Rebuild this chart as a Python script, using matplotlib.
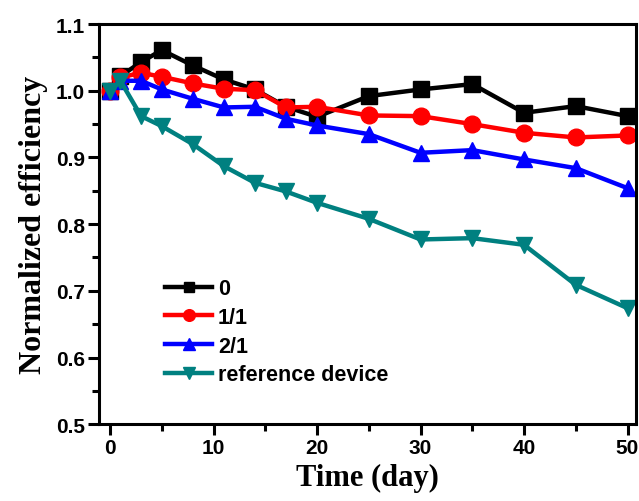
import matplotlib
matplotlib.use("Agg")
import matplotlib.pyplot as plt
from matplotlib.ticker import MultipleLocator

days = [0, 1, 3, 5, 8, 11, 14, 17, 20, 25, 30, 35, 40, 45, 50]

eff_0 = [1.000, 1.022, 1.043, 1.061, 1.038, 1.017, 1.002, 0.976, 0.961, 0.992, 1.002, 1.010, 0.967, 0.977, 0.962]
eff_11 = [1.000, 1.020, 1.027, 1.021, 1.011, 1.003, 1.001, 0.975, 0.976, 0.963, 0.962, 0.950, 0.937, 0.930, 0.933]
eff_21 = [1.000, 1.015, 1.015, 1.002, 0.988, 0.975, 0.976, 0.958, 0.948, 0.935, 0.907, 0.911, 0.897, 0.884, 0.854]
eff_ref = [1.000, 1.015, 0.962, 0.947, 0.920, 0.887, 0.862, 0.849, 0.832, 0.808, 0.777, 0.779, 0.769, 0.709, 0.674]

labels = ["0", "1/1", "2/1", "reference device"]

sans = "Liberation Sans"
serif = "Liberation Serif"

fig = plt.figure(figsize=(6.39, 5.02), dpi=100)
ax = fig.add_axes([0.155, 0.153, 0.840, 0.797])

lw = 3.2
ms = 11
ax.plot(days, eff_0, color="black", marker="s", lw=lw, ms=ms, label=labels[0])
ax.plot(days, eff_11, color="#ff0000", marker="o", lw=lw, ms=ms + 1, label=labels[1])
ax.plot(days, eff_21, color="#0000ff", marker="^", lw=lw, ms=ms + 1, label=labels[2])
ax.plot(days, eff_ref, color="#008080", marker="v", lw=lw, ms=ms + 1, label=labels[3])

ax.set_xlim(-1.06, 50.8)
ax.set_ylim(0.5, 1.1)
ax.xaxis.set_major_locator(MultipleLocator(10))
ax.xaxis.set_minor_locator(MultipleLocator(5))
ax.yaxis.set_major_locator(MultipleLocator(0.1))
ax.yaxis.set_minor_locator(MultipleLocator(0.05))
ax.yaxis.set_major_formatter(plt.FormatStrFormatter("%.1f"))

for s in ax.spines.values():
    s.set_linewidth(2.2)
ax.tick_params(which="both", direction="out", width=2.2, top=False, right=False)
ax.tick_params(which="major", length=8, pad=2)
ax.tick_params(which="minor", length=5)
for lab in ax.get_xticklabels() + ax.get_yticklabels():
    lab.set_fontfamily(sans)
    lab.set_fontweight("bold")
    lab.set_fontsize(15)

ax.set_xlabel("Time (day)", fontfamily=serif, fontweight="bold", fontsize=22, labelpad=4)
ax.set_ylabel("Normalized efficiency", fontfamily=serif, fontweight="bold", fontsize=23, labelpad=6)

leg = ax.legend(loc="upper left", bbox_to_anchor=(0.123, 0.365), frameon=False,
                borderpad=0, borderaxespad=0, handlelength=2.2, handletextpad=0.25,
                labelspacing=0.36, markerscale=0.7,
                prop={"family": sans, "weight": "bold", "size": 15.5})

fig.savefig("out.png", dpi=100)
